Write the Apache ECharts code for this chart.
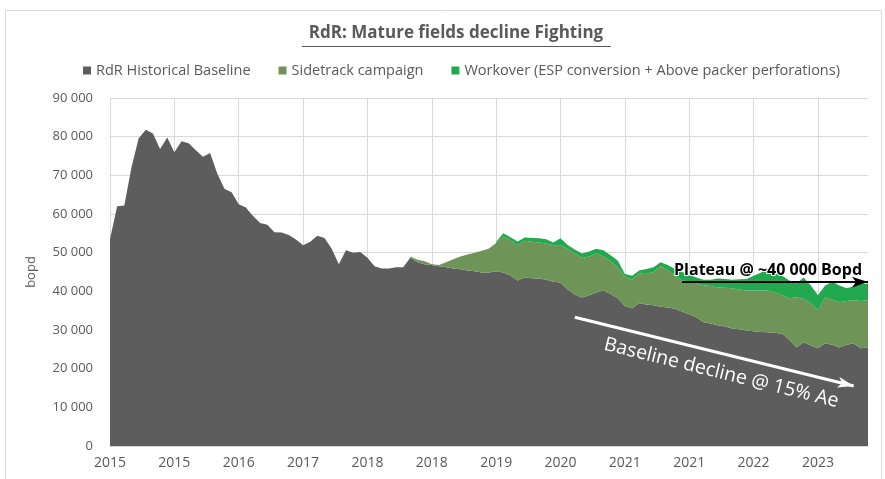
<!DOCTYPE html>
<html>
<head>
<meta charset="utf-8">
<script src="https://cdn.jsdelivr.net/npm/echarts@6/dist/echarts.min.js"></script>
<style>
  html, body { margin: 0; padding: 0; background: #fff; }
  #chart { width: 885px; height: 479px; }
</style>
</head>
<body>
<div id="chart"></div>
<script>
// monthly points, Jan 2015 .. Nov 2023
const startYear = 2015;
const monthCount = 107;
const months = [];
for (let i = 0; i < monthCount; i++) {
  const y = startYear + Math.floor(i / 12);
  const m = (i % 12) + 1;
  months.push(y + '-' + (m < 10 ? '0' + m : m));
}

const seriesNames = ['RdR Historical Baseline', 'Sidetrack campaign', 'Workover (ESP conversion + Above packer perforations)'];

// bopd
const baseline = [
  53500, 62000, 62200, 72000, 79500, 81800, 80800, 76800, 79800, 76000,
  78800, 78300, 76500, 74800, 75800, 70500, 66500, 65600, 62500, 61700,
  59500, 57700, 57200, 55300, 55200, 54600, 53400, 51900, 52800, 54400,
  53800, 51000, 47000, 50600, 50000, 50200, 48700, 46500, 45900, 45900,
  46200, 46200, 48700, 47500, 47000, 46800, 46500, 46200, 45900, 45700,
  45400, 45200, 44900, 44900, 45200, 44900, 44100, 42800, 43600, 43400,
  43300, 43000, 42500, 42300, 40500, 39200, 38400, 39000, 39700, 40200,
  39300, 38200, 36200, 35600, 36900, 36600, 36400, 36000, 35800, 35500,
  34800, 34000, 33300, 32000, 31700, 31200, 30900, 30400, 30200, 29900,
  29700, 29500, 29400, 29300, 29000, 27500, 25500, 26800, 26000, 25300,
  26600, 26200, 25500, 26200, 26500, 25300, 25500
];

// starts Jul 2018 (index 42)
const sidetrackStart = 42;
const sidetrack = [
  300, 700, 800, 200, 300, 1300, 2400, 3300,
  4100, 4800, 5600, 6200, 7300, 9300, 9100, 9100, 9500, 9400,
  9300, 9400, 9400, 9700, 10500, 10600, 10200, 10000, 10100, 8800,
  8500, 8000, 7600, 7400, 7700, 7900, 8600, 10500, 9700, 8500,
  8000, 8500, 8700, 9600, 9700, 9800, 10000, 10400, 10300, 10300,
  10500, 10700, 10800, 10500, 10000, 10700, 13000, 11200, 11000, 9800,
  11800, 11600, 11700, 11300, 11200, 12200, 12200
];

// starts Jul 2019 (index 54)
const workoverStart = 54;
const workover = [
  300, 800, 800, 1000, 800, 1000,
  1100, 1100, 700, 1700, 1000, 1000, 1200, 1300, 1200, 1600,
  1500, 1800, 700, 1000, 800, 1300, 1200, 1000, 1300, 1800,
  2200, 1700, 1600, 1400, 1600, 2300, 2300, 2200, 2600, 3000,
  3800, 4600, 5700, 5400, 5000, 4600, 3500, 5600, 4500, 3900,
  3100, 4700, 4300, 3300, 3600, 4300, 4300
];

const yTicks = [0, 10000, 20000, 30000, 40000, 50000, 60000, 70000, 80000, 90000];

const pad = (start, arr) => new Array(start).fill(null).concat(arr);

const colors = ['#5d5d5d', '#6f9457', '#22a94f'];
const textGray = '#595959';
const gridGray = '#d9d9d9';
const font = 'Open Sans';

const fmt = v => String(v).replace(/\B(?=(\d{3})+(?!\d))/g, ' ');

const chart = echarts.init(document.getElementById('chart'));

const areaSeries = (name, data, color) => ({
  name: name,
  type: 'line',
  stack: 'total',
  data: data,
  symbol: 'none',
  showSymbol: false,
  connectNulls: false,
  lineStyle: { width: 0 },
  areaStyle: { color: color, opacity: 1 },
  itemStyle: { color: color },
  emphasis: { disabled: true },
  z: 2,
});

const baseSeries = areaSeries(seriesNames[0], baseline, colors[0]);
// annotation arrows, placed in data space
baseSeries.markLine = {
  silent: true,
  symbol: ['none', 'arrow'],
  animation: false,
  data: [
    [
      {
        coord: [80, 42400],
        lineStyle: { color: '#000', width: 2, type: 'solid' },
        symbolSize: 9,
        label: {
          show: true,
          position: 'insideMiddleTop',
          formatter: 'Plateau @ ~40 000 Bopd',
          color: '#000',
          fontFamily: font,
          fontWeight: 'bold',
          fontSize: 16,
          distance: 4,
          padding: [0, 14, 0, 0],
          textBorderColor: '#fff',
          textBorderWidth: 2,
        },
      },
      { coord: [106, 42400] },
    ],
    [
      {
        coord: [65, 33300],
        lineStyle: { color: '#fff', width: 3, type: 'solid' },
        symbolSize: 12,
        label: {
          show: true,
          position: 'insideMiddleBottom',
          formatter: 'Baseline decline @ 15% Ae',
          color: '#fff',
          fontFamily: font,
          fontSize: 19.5,
          distance: 9,
          padding: [0, 0, 0, 24],
        },
      },
      { coord: [104, 15500] },
    ],
  ],
};

chart.setOption({
  animation: false,
  color: colors,
  textStyle: { fontFamily: font },
  graphic: [
    {
      type: 'rect',
      shape: { x: 5.5, y: 10.5, width: 876, height: 480 },
      style: { fill: null, stroke: gridGray, lineWidth: 1 },
      silent: true,
    },
    {
      type: 'text',
      x: 456,
      y: 25,
      style: {
        text: 'RdR: Mature fields decline Fighting',
        fill: textGray,
        font: 'bold 17px "Open Sans"',
        textAlign: 'center',
      },
      silent: true,
    },
    {
      type: 'line',
      shape: { x1: 302, y1: 46.5, x2: 611, y2: 46.5 },
      style: { stroke: textGray, lineWidth: 1 },
      silent: true,
    },
  ],
  legend: {
    top: 58,
    left: 78,
    icon: 'rect',
    itemWidth: 8,
    itemHeight: 8,
    itemGap: 28,
    selectedMode: false,
    textStyle: { color: textGray, fontSize: 14.5, fontFamily: font },
    data: seriesNames,
  },
  grid: {
    left: 110,
    right: 17,
    top: 98,
    bottom: 33,
    containLabel: false,
  },
  xAxis: {
    type: 'category',
    data: months,
    boundaryGap: false,
    axisLine: { show: true, lineStyle: { color: gridGray } },
    axisTick: { show: false },
    axisLabel: {
      interval: 8,
      color: textGray,
      fontSize: 14,
      margin: 10,
      formatter: v => v.slice(0, 4),
    },
    splitLine: {
      show: true,
      interval: 8,
      lineStyle: { color: gridGray, width: 1 },
    },
  },
  yAxis: {
    type: 'value',
    min: yTicks[0],
    max: yTicks[yTicks.length - 1],
    interval: yTicks[1] - yTicks[0],
    name: 'bopd',
    nameLocation: 'middle',
    nameGap: 72,
    nameRotate: 90,
    nameTextStyle: { color: textGray, fontSize: 13 },
    axisLine: { show: false },
    axisTick: { show: false },
    axisLabel: { color: textGray, fontSize: 13, margin: 17, formatter: fmt },
    splitLine: { lineStyle: { color: gridGray, width: 1 } },
  },
  series: [
    baseSeries,
    areaSeries(seriesNames[1], pad(sidetrackStart, sidetrack), colors[1]),
    areaSeries(seriesNames[2], pad(workoverStart, workover), colors[2]),
  ],
});
</script>
</body>
</html>
